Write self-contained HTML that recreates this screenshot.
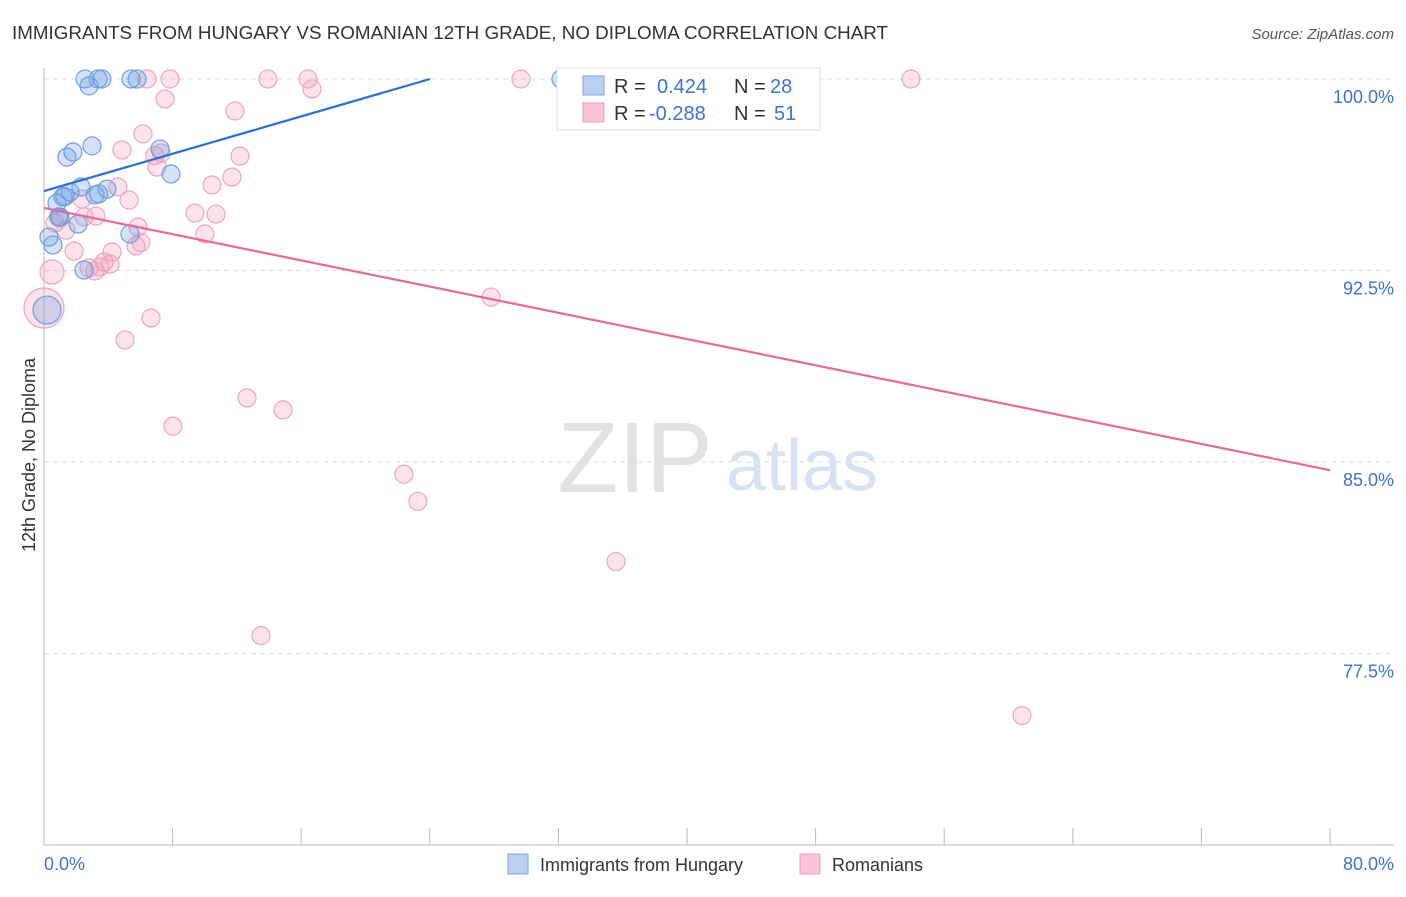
<!DOCTYPE html>
<html><head><meta charset="utf-8"><style>
body{margin:0;background:#fff;font-family:"Liberation Sans",sans-serif;}
svg text{font-family:"Liberation Sans",sans-serif;}
</style></head><body>
<svg id="chart" width="1406" height="892">
<text x="12" y="39" font-size="18" fill="#333" textLength="876" lengthAdjust="spacingAndGlyphs">IMMIGRANTS FROM HUNGARY VS ROMANIAN 12TH GRADE, NO DIPLOMA CORRELATION CHART</text>
<text x="1394" y="39" font-size="15" fill="#555" font-style="italic" text-anchor="end">Source: ZipAtlas.com</text>
<g id="grid"></g>
<text x="635" y="492" font-size="100" fill="#e2e2e2" font-family="Liberation Serif" text-anchor="middle">ZIP</text>
<text x="802" y="490" font-size="72" fill="#d6e3f5" text-anchor="middle">atlas</text>
<line x1="44" y1="68" x2="44" y2="845" stroke="#bbb"/>
<line x1="44" y1="845" x2="1394" y2="845" stroke="#bbb"/>
<g id="points"></g>
<g id="lines"></g>
<text transform="translate(35,455) rotate(-90)" font-size="18" fill="#333" text-anchor="middle">12th Grade, No Diploma</text>
<text x="44" y="870" font-size="18" fill="#3b74d4">0.0%</text>
<text x="1394" y="870" font-size="18" fill="#3b74d4" text-anchor="end">80.0%</text>
<g>
<rect x="557" y="68" width="263" height="62" fill="#fff" stroke="#ddd"/>
<rect x="583" y="76" width="21" height="19" fill="#b9d0f3" stroke="#7fa6e4"/>
<rect x="583" y="103" width="21" height="19" fill="#f9c4d3" stroke="#ec9ab3"/>
<text x="614" y="93" font-size="20" fill="#333">R = <tspan x="657" fill="#3b74d4">0.424</tspan><tspan x="734" fill="#333">N = </tspan><tspan x="770" fill="#3b74d4">28</tspan></text>
<text x="614" y="120" font-size="20" fill="#333">R = <tspan x="649" fill="#3b74d4">-0.288</tspan><tspan x="734" fill="#333">N = </tspan><tspan x="774" fill="#3b74d4">51</tspan></text>
</g>
<g>
<rect x="508" y="854" width="20" height="20" fill="#b9d0f3" stroke="#7fa6e4"/>
<text x="540" y="871" font-size="18" fill="#333">Immigrants from Hungary</text></g>
<g>
<rect x="800" y="854" width="20" height="20" fill="#f9c4d3" stroke="#ec9ab3"/>
<text x="832" y="871" font-size="18" fill="#333">Romanians</text></g>
</svg>
<script>
const yTicks=[100,92.5,85,77.5];
const yTickLabels=["100.0%","92.5%","85.0%","77.5%"];
const xTicks=[0,8,16,24,32,40,48,56,64,72,80];
const blueX=[2.55,2.8,3.36,3.6,5.41,5.79,32.16,1.43,1.8,2.99,7.22,7.9,2.3,3.92,3.17,1.62,1.18,0.81,1.0,2.12,5.35,0.31,0.56,2.49,0.19,3.4,1.3,0.9];
const blueY=[100,99.73,100,100,100,100,100,96.94,97.14,97.38,97.26,96.28,95.77,95.69,95.46,95.57,95.38,95.14,94.59,94.32,93.93,93.81,93.5,92.52,90.95,95.5,95.4,94.6];
const blueR=[9,9,9,9,9,9,9,9,9,9,9,9,9,9,9,9,9,9,9,9,9,9,9,9,14,9,9,9];
const pinkX=[6.41,7.84,13.93,16.42,16.67,29.67,53.93,7.53,11.88,6.16,4.85,12.19,7.03,11.69,10.45,4.6,5.29,2.36,9.39,10.7,3.23,0.99,5.85,1.37,10.01,5.72,1.87,4.23,3.73,4.11,2.8,0.5,3.48,27.81,0.0,6.66,5.04,12.63,14.87,8.02,22.39,23.26,35.58,13.5,60.84,0.68,3.17,6.03,2.5,6.9,7.3];
const pinkY=[100,100,100,100,99.61,100,100,99.22,98.75,97.85,97.22,96.98,96.55,96.16,95.85,95.77,95.26,95.3,94.75,94.71,94.63,94.55,94.2,94.08,93.93,93.46,93.26,93.22,92.83,92.75,92.6,92.44,92.64,91.46,91.03,90.64,89.78,87.51,87.04,86.4,84.52,83.46,81.1,78.2,75.07,94.36,92.48,93.6,94.6,97.0,97.1];
const pinkR=[9,9,9,9,9,9,9,9,9,9,9,9,9,9,9,9,9,9,9,9,9,9,9,9,9,9,9,9,9,9,9,12,9,9,20,9,9,9,9,9,9,9,9,9,9,9,9,9,9,9,9];
const blueLineX=[0,24.01], blueLineY=[95.61,100];
const pinkLineX=[0,80], pinkLineY=[94.95,84.68];
const NS="http://www.w3.org/2000/svg";
const sx=v=>44+v*(1286/80);
const sy=v=>79+(100-v)*(191.5/7.5);
function mk(tag,attrs,parent){const e=document.createElementNS(NS,tag);for(const k in attrs)e.setAttribute(k,attrs[k]);parent.appendChild(e);return e;}
const grid=document.getElementById('grid');
yTicks.forEach((t,i)=>{
 const l=mk('line',{x1:44,x2:1394,y1:sy(t),y2:sy(t),stroke:'#ddd','stroke-dasharray':'5,4'},grid);
 
 
 const tx=mk('text',{x:1394,y:sy(t)+24,'font-size':18,fill:'#3b74d4','text-anchor':'end'},grid);
 tx.textContent=yTickLabels[i];
 
 
});
xTicks.forEach(t=>{
 const l=mk('line',{x1:sx(t),x2:sx(t),y1:828,y2:845,stroke:'#bbb'},grid);
 
 
});
const pts=document.getElementById('points');
pinkX.forEach((x,i)=>{
 const c=mk('circle',{cx:sx(x),cy:sy(pinkY[i]),r:pinkR[i],fill:'rgba(244,160,188,0.3)',stroke:'#eea5bd','stroke-width':1.2},pts);
 
 
});
blueX.forEach((x,i)=>{
 const c=mk('circle',{cx:sx(x),cy:sy(blueY[i]),r:blueR[i],fill:'rgba(110,160,230,0.3)',stroke:'#6f9fe0','stroke-width':1.2},pts);
 
 
});
const ln=document.getElementById('lines');
const bl=mk('line',{x1:sx(blueLineX[0]),y1:sy(blueLineY[0]),x2:sx(blueLineX[1]),y2:sy(blueLineY[1]),stroke:'#2a6fd6','stroke-width':2.2},ln);


const pl=mk('line',{x1:sx(pinkLineX[0]),y1:sy(pinkLineY[0]),x2:sx(pinkLineX[1]),y2:sy(pinkLineY[1]),stroke:'#e8689a','stroke-width':2.2},ln);


</script>
</body></html>
